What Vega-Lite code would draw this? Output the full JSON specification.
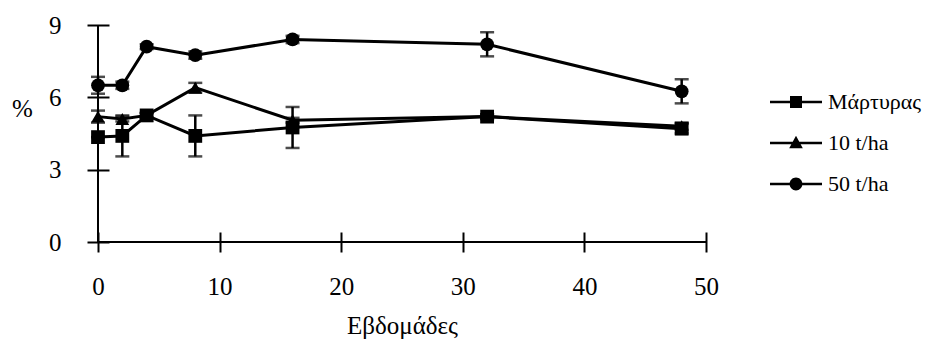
{
  "$schema": "https://vega.github.io/schema/vega-lite/v6.json",
  "width": 608,
  "height": 217,
  "autosize": {"type": "none"},
  "padding": {"left": 98, "top": 25, "right": 233, "bottom": 102},
  "background": "white",
  "config": {
    "view": {"stroke": null},
    "font": "Liberation Serif"
  },
  "data": {"values": [
    {"series": "Μάρτυρας", "week": 0, "value": 4.35, "err": 0},
    {"series": "Μάρτυρας", "week": 2, "value": 4.4, "err": 0.85},
    {"series": "Μάρτυρας", "week": 4, "value": 5.25, "err": 0.1},
    {"series": "Μάρτυρας", "week": 8, "value": 4.4, "err": 0.85},
    {"series": "Μάρτυρας", "week": 16, "value": 4.75, "err": 0.85},
    {"series": "Μάρτυρας", "week": 32, "value": 5.2, "err": 0.1},
    {"series": "Μάρτυρας", "week": 48, "value": 4.7, "err": 0.2},
    {"series": "10 t/ha", "week": 0, "value": 5.2, "err": 0.25},
    {"series": "10 t/ha", "week": 2, "value": 5.1, "err": 0.1},
    {"series": "10 t/ha", "week": 4, "value": 5.25, "err": 0.1},
    {"series": "10 t/ha", "week": 8, "value": 6.4, "err": 0.2},
    {"series": "10 t/ha", "week": 16, "value": 5.05, "err": 0.1},
    {"series": "10 t/ha", "week": 32, "value": 5.2, "err": 0.1},
    {"series": "10 t/ha", "week": 48, "value": 4.8, "err": 0.15},
    {"series": "50 t/ha", "week": 0, "value": 6.5, "err": 0.35},
    {"series": "50 t/ha", "week": 2, "value": 6.5, "err": 0.15},
    {"series": "50 t/ha", "week": 4, "value": 8.1, "err": 0.1},
    {"series": "50 t/ha", "week": 8, "value": 7.75, "err": 0.15},
    {"series": "50 t/ha", "week": 16, "value": 8.4, "err": 0.15},
    {"series": "50 t/ha", "week": 32, "value": 8.2, "err": 0.5},
    {"series": "50 t/ha", "week": 48, "value": 6.25, "err": 0.5}
  ]},
  "resolve": {"scale": {"shape": "independent"}},
  "layer": [
    {
      "data": {"values": [{"axis": "y"}]},
      "mark": {"type": "rule", "color": "black", "strokeWidth": 2},
      "encoding": {
        "x": {"datum": 0, "type": "quantitative", "title": "Εβδομάδες"},
        "y": {"datum": 0, "type": "quantitative", "title": "%"},
        "y2": {"datum": 9}
      }
    },
    {
      "data": {"values": [{"axis": "x"}]},
      "mark": {"type": "rule", "color": "black", "strokeWidth": 2},
      "encoding": {
        "x": {"datum": 0, "type": "quantitative", "title": "Εβδομάδες"},
        "x2": {"datum": 50},
        "y": {"datum": 0, "type": "quantitative", "title": "%"}
      }
    },
    {
      "mark": {"type": "line", "color": "black", "strokeWidth": 3},
      "encoding": {
        "x": {"field": "week", "type": "quantitative", "title": "Εβδομάδες",
              "scale": {"domain": [0, 50], "nice": false},
              "axis": {"values": [0, 10, 20, 30, 40, 50], "offset": -10, "tickSize": 20, "tickWidth": 2, "tickColor": "black",
                       "domain": false, "grid": false, "labelFlush": false,
                       "labelFont": "Liberation Serif", "labelFontSize": 25, "labelColor": "black", "labelPadding": 22,
                       "titleFont": "Liberation Serif", "titleFontSize": 25, "titleFontWeight": "normal", "titleColor": "black",
                       "titleY": 101, "titleBaseline": "alphabetic"}},
        "y": {"field": "value", "type": "quantitative", "title": "%",
              "scale": {"domain": [0, 9], "nice": false},
              "axis": {"values": [0, 3, 6, 9], "offset": -11, "tickSize": 22, "tickWidth": 2, "tickColor": "black",
                       "domain": false, "grid": false,
                       "labelFont": "Liberation Serif", "labelFontSize": 25, "labelColor": "black", "labelPadding": 26,
                       "titleFont": "Liberation Serif", "titleFontSize": 25, "titleFontWeight": "normal", "titleColor": "black",
                       "titleAngle": 0, "titleX": -87, "titleY": 83, "titleAlign": "center", "titleBaseline": "middle"}},
        "detail": {"field": "series"}
      }
    },
    {
      "mark": {"type": "errorbar", "color": "black", "thickness": 2.5, "ticks": {"size": 14, "thickness": 2.5, "color": "black"}},
      "encoding": {
        "x": {"field": "week", "type": "quantitative", "title": "Εβδομάδες"},
        "y": {"field": "value", "type": "quantitative", "title": "%"},
        "yError": {"field": "err"},
        "detail": {"field": "series"}
      }
    },
    {
      "mark": {"type": "point", "filled": true, "color": "black", "opacity": 1, "size": 190},
      "encoding": {
        "x": {"field": "week", "type": "quantitative", "title": "Εβδομάδες"},
        "y": {"field": "value", "type": "quantitative", "title": "%"},
        "shape": {
          "field": "series", "type": "nominal",
          "scale": {"domain": ["Μάρτυρας", "10 t/ha", "50 t/ha"], "range": ["square", "triangle-up", "circle"]},
          "legend": null
        }
      }
    },
    {
      "transform": [{"filter": "datum.week < 0"}],
      "mark": {"type": "point", "filled": true, "color": "black", "opacity": 1},
      "encoding": {
        "x": {"field": "week", "type": "quantitative", "title": "Εβδομάδες"},
        "y": {"field": "value", "type": "quantitative", "title": "%"},
        "shape": {
          "field": "series", "type": "nominal",
          "scale": {"domain": ["Μάρτυρας", "10 t/ha", "50 t/ha"],
                    "range": [
                      "M-1.3,-0.06H1.3V0.06H-1.3ZM-0.3,-0.3H0.3V0.3H-0.3Z",
                      "M-1.3,-0.06H1.3V0.06H-1.3ZM0,-0.36L0.34,0.26H-0.34Z",
                      "M-1.3,-0.06H1.3V0.06H-1.3ZM0.32,0A0.32,0.32 0 1,1 -0.32,0A0.32,0.32 0 1,1 0.32,0Z"
                    ]},
          "legend": {
            "orient": "none", "legendX": 678, "legendY": 57, "title": null, "padding": 0,
            "labelFont": "Liberation Serif", "labelFontSize": 22, "labelColor": "black", "labelOffset": 12,
            "symbolSize": 1600, "symbolFillColor": "black", "symbolStrokeWidth": 0,
            "rowPadding": 10
          }
        }
      }
    }
  ]
}
